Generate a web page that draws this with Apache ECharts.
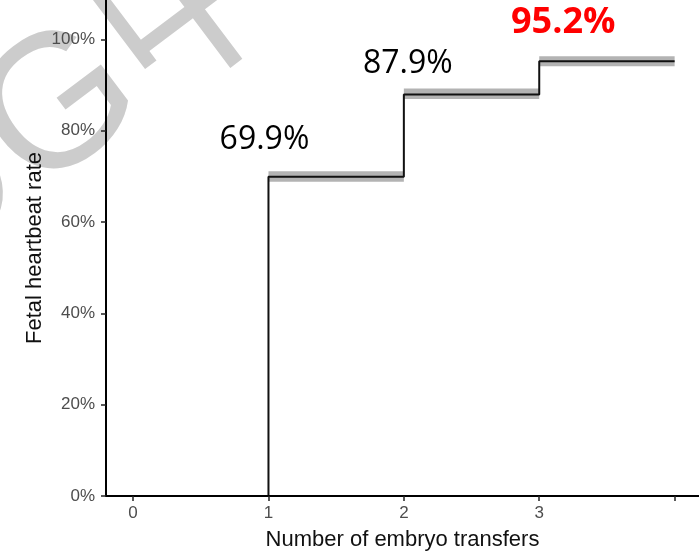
<!DOCTYPE html>
<html>
<head>
<meta charset="utf-8">
<script src="https://cdn.jsdelivr.net/npm/echarts@6/dist/echarts.min.js"></script>
<style>
  html, body { margin: 0; padding: 0; background: #ffffff; }
  #chart { width: 699px; height: 556px; }
</style>
</head>
<body>
<div id="chart"></div>
<script>
// Cumulative fetal heartbeat rate by number of embryo transfers
const transfers = [1, 2, 3];          // transfer number where each step begins
const stepEnd = [2, 3, 4];            // where each step ends
const rate = [69.9, 87.9, 95.2];      // cumulative rate (%)
const ciLower = [68.8, 86.9, 94.1];   // confidence band, lower (%)
const ciUpper = [71.1, 89.2, 96.3];   // confidence band, upper (%)
const xTickValues = [0, 1, 2, 3, 4];
const xLabelValues = [0, 1, 2, 3];
const yTickValues = [0, 20, 40, 60, 80, 100];

// step curve: rises from 0 at the first transfer, then holds each rate
const curve = [[transfers[0], 0]]
  .concat(transfers.map((t, i) => [t, rate[i]]))
  .concat([[stepEnd[stepEnd.length - 1], rate[rate.length - 1]]]);

const bands = transfers.map((t, i) => [t, stepEnd[i], ciLower[i], ciUpper[i]]);

const labelStyles = [
  { position: [-4, -37], fontSize: 32, color: '#000000', fontWeight: 'normal' },
  { position: [4, -31], fontSize: 32, color: '#000000', fontWeight: 'normal' },
  { position: [24, -38], fontSize: 36, color: '#ff0000', fontWeight: 'bold' }
];

const axisFont = '"Liberation Sans", Arial, sans-serif';

const chart = echarts.init(document.getElementById('chart'), null, { renderer: 'canvas' });

chart.setOption({
  backgroundColor: '#ffffff',
  animation: false,
  grid: { left: 106, right: 0, top: 0, bottom: 55 },
  graphic: [{
    type: 'text',
    z: 0,
    silent: true,
    x: -116, y: 244,
    rotation: 0.645,
    style: {
      text: 'OG中华',
      fill: '#cccccc',
      font: '190px "Liberation Sans", "Noto Sans CJK SC", sans-serif',
      textAlign: 'left',
      textVerticalAlign: 'middle'
    }
  }],
  xAxis: {
    type: 'value',
    min: -0.2,
    max: 4.18,
    z: 5,
    axisLine: { show: true, onZero: false, lineStyle: { color: '#000000', width: 2 } },
    axisTick: { show: true, customValues: xTickValues, length: 5, lineStyle: { color: '#222222', width: 1.5 } },
    axisLabel: { customValues: xLabelValues, color: '#4d4d4d', fontSize: 17, margin: 9, fontFamily: axisFont },
    splitLine: { show: false },
    name: 'Number of embryo transfers',
    nameLocation: 'middle',
    nameMoveOverlap: false,
    nameGap: 33,
    nameTextStyle: { color: '#111111', fontSize: 22, fontFamily: axisFont }
  },
  yAxis: {
    type: 'value',
    min: 0,
    max: 108.6,
    z: 5,
    axisLine: { show: true, onZero: false, lineStyle: { color: '#000000', width: 2 } },
    axisTick: { show: true, customValues: yTickValues, length: 5, lineStyle: { color: '#222222', width: 1.5 } },
    axisLabel: { customValues: yTickValues, formatter: '{value}%', color: '#4d4d4d', fontSize: 17, margin: 11, fontFamily: axisFont },
    splitLine: { show: false },
    name: 'Fetal heartbeat rate',
    nameLocation: 'middle',
    nameMoveOverlap: false,
    nameGap: 60,
    nameTextStyle: { color: '#111111', fontSize: 22, fontFamily: axisFont }
  },
  series: [
    {
      type: 'custom',
      name: 'band',
      silent: true,
      z: 2,
      data: bands,
      renderItem: function (params, api) {
        const p0 = api.coord([api.value(0), api.value(3)]);
        const p1 = api.coord([api.value(1), api.value(2)]);
        return {
          type: 'rect',
          shape: { x: p0[0], y: p0[1], width: p1[0] - p0[0], height: p1[1] - p0[1] },
          style: { fill: '#b3b3b3' }
        };
      }
    },
    {
      type: 'line',
      name: 'rate',
      z: 3,
      step: 'end',
      symbol: 'none',
      data: curve,
      lineStyle: { color: '#111111', width: 2 }
    },
    {
      type: 'scatter',
      name: 'labels',
      z: 4,
      symbolSize: 0,
      silent: true,
      itemStyle: { opacity: 1 },
      data: transfers.map((t, i) => ({
        value: [t, rate[i]],
        label: {
          show: true,
          position: labelStyles[i].position,
          align: 'center',
          verticalAlign: 'middle',
          formatter: rate[i].toFixed(1) + '%',
          fontFamily: '"Open Sans", sans-serif',
          fontSize: labelStyles[i].fontSize,
          fontWeight: labelStyles[i].fontWeight,
          color: labelStyles[i].color,
          opacity: 1
        }
      }))
    }
  ]
});
</script>
</body>
</html>
